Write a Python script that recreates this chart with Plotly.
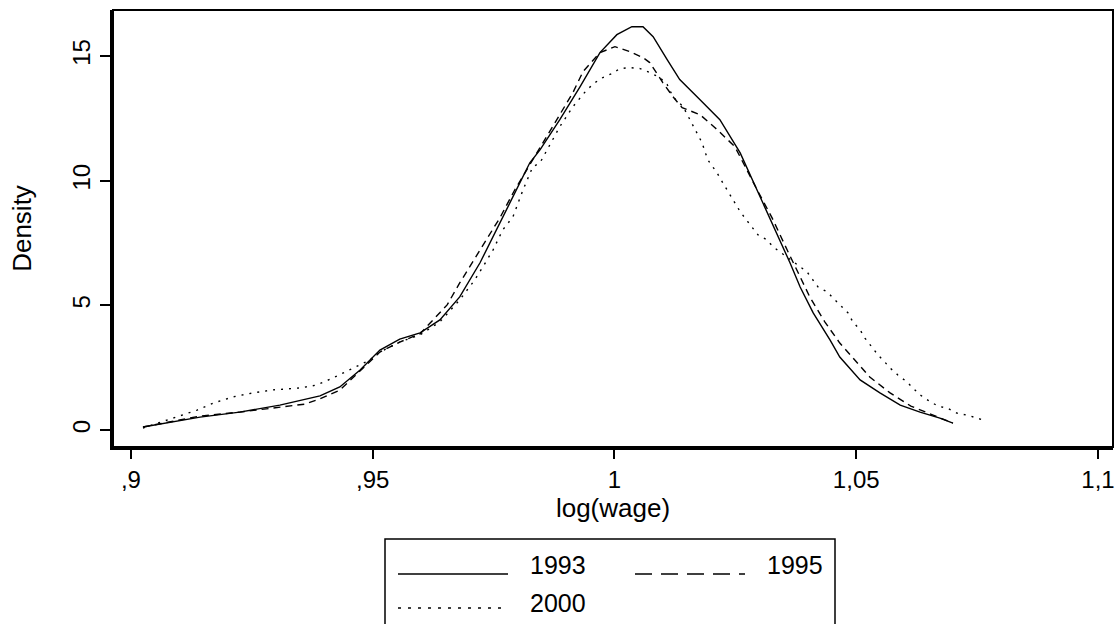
import plotly.graph_objects as go

# ---- data ----
years = ["1993", "1995", "2000"]

x_1993 = [0.9025, 0.9143, 0.9225, 0.9308, 0.9391, 0.9432, 0.9474, 0.9515, 0.9556, 0.9598,
          0.9639, 0.9680, 0.9722, 0.9763, 0.9790, 0.9825, 0.9846, 0.9887, 0.9929, 0.9970,
          1.0005, 1.0036, 1.0059, 1.0080, 1.0109, 1.0135, 1.0177, 1.0218, 1.0260, 1.0295,
          1.0322, 1.0342, 1.0363, 1.0384, 1.0411, 1.0446, 1.0466, 1.0508, 1.0549, 1.0591,
          1.0632, 1.0673, 1.0700]
y_1993 = [0.12, 0.52, 0.72, 1.00, 1.37, 1.73, 2.41, 3.21, 3.65, 3.90,
          4.42, 5.34, 6.71, 8.31, 9.36, 10.72, 11.24, 12.45, 13.78, 15.14,
          15.86, 16.18, 16.18, 15.78, 14.86, 14.06, 13.25, 12.45, 11.12, 9.64,
          8.43, 7.63, 6.71, 5.74, 4.70, 3.61, 2.93, 2.01, 1.49, 1.00,
          0.72, 0.48, 0.28]

x_1995 = [0.9025, 0.9143, 0.9225, 0.9360, 0.9391, 0.9432, 0.9515, 0.9556, 0.9598, 0.9654,
          0.9680, 0.9707, 0.9736, 0.9763, 0.9794, 0.9825, 0.9862, 0.9914, 0.9935, 0.9970,
          1.0001, 1.0032, 1.0059, 1.0073, 1.0100, 1.0121, 1.0140, 1.0177, 1.0208, 1.0249,
          1.0295, 1.0326, 1.0357, 1.0404, 1.0435, 1.0466, 1.0497, 1.0528, 1.0570, 1.0613,
          1.0659, 1.0700]
y_1995 = [0.12, 0.56, 0.72, 1.04, 1.25, 1.60, 3.13, 3.53, 3.86, 5.02,
          5.90, 6.75, 7.63, 8.51, 9.64, 10.64, 11.85, 13.53, 14.38, 15.14,
          15.38, 15.18, 14.94, 14.74, 13.94, 13.37, 12.93, 12.65, 12.13, 11.37,
          9.64, 8.51, 7.23, 5.34, 4.34, 3.49, 2.81, 2.13, 1.49, 0.96,
          0.60, 0.28]

x_2000 = [0.9025, 0.9095, 0.9137, 0.9170, 0.9211, 0.9252, 0.9294, 0.9350, 0.9385, 0.9418,
          0.9459, 0.9494, 0.9515, 0.9556, 0.9598, 0.9639, 0.9680, 0.9711, 0.9728, 0.9749,
          0.9769, 0.9790, 0.9811, 0.9831, 0.9846, 0.9887, 0.9914, 0.9943, 0.9960, 0.9976,
          0.9995, 1.0011, 1.0032, 1.0053, 1.0073, 1.0094, 1.0109, 1.0121, 1.0142, 1.0160,
          1.0181, 1.0193, 1.0212, 1.0224, 1.0239, 1.0260, 1.0284, 1.0297, 1.0315, 1.0328,
          1.0342, 1.0377, 1.0398, 1.0421, 1.0440, 1.0456, 1.0471, 1.0483, 1.0493, 1.0508,
          1.0518, 1.0533, 1.0545, 1.0559, 1.0570, 1.0586, 1.0605, 1.0617, 1.0632, 1.0648,
          1.0669, 1.0688, 1.0708, 1.0729, 1.0750, 1.0770]
y_2000 = [0.08, 0.52, 0.80, 1.08, 1.33, 1.49, 1.61, 1.69, 1.81, 2.09,
          2.49, 2.81, 3.13, 3.53, 3.82, 4.34, 5.22, 6.02, 6.55, 7.23,
          8.03, 8.55, 9.64, 10.56, 10.72, 12.17, 12.97, 13.65, 13.94, 14.14,
          14.30, 14.50, 14.54, 14.50, 14.34, 14.14, 13.86, 13.37, 12.97, 12.33,
          11.53, 10.84, 10.32, 9.92, 9.44, 8.76, 8.15, 7.83, 7.63, 7.35,
          7.15, 6.63, 6.35, 5.74, 5.54, 5.22, 4.94, 4.70, 4.34, 4.02,
          3.69, 3.33, 3.01, 2.73, 2.49, 2.21, 1.93, 1.69, 1.41, 1.20,
          0.96, 0.88, 0.68, 0.60, 0.48, 0.36]

x_tickvals = [0.9, 0.95, 1.0, 1.05, 1.1]
x_ticktext = [",9", ",95", "1", "1,05", "1,1"]
y_tickvals = [0, 5, 10, 15]
y_ticktext = ["0", "5", "10", "15"]

series_x = [x_1993, x_1995, x_2000]
series_y = [y_1993, y_1995, y_2000]
plot_dash = ["solid", "7px,5px", "2px,6px"]
legend_dash = ["solid", "17px,9px", "3px,7px"]

FONT = "Liberation Sans, Arial, sans-serif"

fig = go.Figure()
for name, xs, ys, d in zip(years, series_x, series_y, plot_dash):
    fig.add_trace(go.Scatter(x=xs, y=ys, mode="lines", name=name, showlegend=False,
                             line=dict(color="black", width=1.4, dash=d)))

# custom legend (box + long line samples, as in the reference)
legend_line_y = [-0.2905, -0.2905, -0.3685]
legend_text_y = [-0.2711, -0.2711, -0.3560]
legend_x = [0.285, 0.522, 0.285]
shapes = [
    dict(type="rect", xref="paper", yref="paper", x0=0, x1=1, y0=0, y1=1,
         line=dict(color="black", width=2), layer="above"),
    dict(type="rect", xref="paper", yref="paper", x0=0.272, x1=0.722, y0=-0.45, y1=-0.2105,
         line=dict(color="black", width=1.5), fillcolor="white"),
]
annotations = []
for name, lx, ly, ty, d in zip(years, legend_x, legend_line_y, legend_text_y, legend_dash):
    shapes.append(dict(type="line", xref="paper", yref="paper", x0=lx, x1=lx + 0.110,
                       y0=ly, y1=ly, line=dict(color="black", width=1.4, dash=d)))
    annotations.append(dict(xref="paper", yref="paper", x=lx + 0.130, y=ty, text=name,
                            showarrow=False, xanchor="left", yanchor="middle",
                            font=dict(family=FONT, size=25, color="black")))

fig.update_layout(
    width=1120, height=624,
    margin=dict(l=113, r=7, t=10, b=177),
    paper_bgcolor="white", plot_bgcolor="white",
    font=dict(family=FONT, color="black"),
    shapes=shapes, annotations=annotations,
    xaxis=dict(range=[0.8963, 1.1031], tickvals=x_tickvals, ticktext=x_ticktext,
               ticks="outside", ticklen=9, tickwidth=2, tickcolor="black",
               showline=True, linewidth=3, linecolor="black", automargin=False,
               showgrid=False, zeroline=False, tickfont=dict(size=24),
               title=dict(text="log(wage)", font=dict(size=26), standoff=2)),
    yaxis=dict(range=[-0.68, 16.85], tickvals=y_tickvals, ticktext=y_ticktext,
               ticks="outside", ticklen=10, tickwidth=2, tickcolor="black",
               showline=True, linewidth=3, linecolor="black", tickangle=-90,
               automargin=False, ticklabelstandoff=0,
               showgrid=False, zeroline=False, tickfont=dict(size=24),
               title=dict(text="Density", font=dict(size=26), standoff=30)),
)

fig.write_html("out.html", config={"displayModeBar": False},
               post_script="document.body.style.margin='0px';document.body.style.overflow='hidden';")
